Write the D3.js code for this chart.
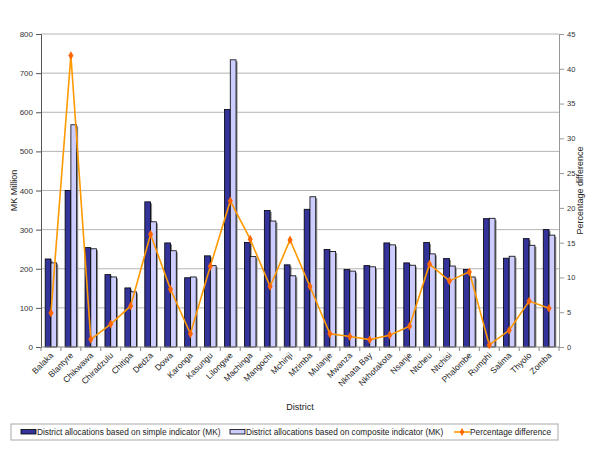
<!DOCTYPE html>
<html><head><meta charset="utf-8">
<script src="https://cdn.jsdelivr.net/npm/d3@7"></script>
<style>body{margin:0;background:#fff}svg{display:block;font-family:"Liberation Sans",Arial,sans-serif}</style>
</head><body><svg id="c" width="600" height="464"></svg>
<script>
const districts = ["Balaka","Blantyre","Chikwawa","Chiradzulu","Chitipa","Dedza","Dowa","Karonga","Kasungu","Lilongwe","Machinga","Mangochi","Mchinji","Mzimba","Mulanje","Mwanza","Nkhata Bay","Nkhotakota","Nsanje","Ntcheu","Ntchisi","Phalombe","Rumphi","Salima","Thyolo","Zomba"];
const simpleAlloc = [225,400,254,185,151,371,266,177,233,607,267,349,210,352,249,198,208,266,215,267,226,198,328,227,277,300];
const compositeAlloc = [215,568,251,179,141,320,246,179,208,734,231,322,182,384,244,194,205,261,209,238,207,179,329,232,260,286];
const pctDiff = [4.9,41.9,1.1,3.3,5.9,16.2,8.3,1.9,11.6,21.0,15.5,8.7,15.4,8.7,1.9,1.5,1.06,1.7,3.0,11.9,9.5,10.8,0.3,2.4,6.6,5.56];
const leftTicks = [0,100,200,300,400,500,600,700,800];
const rightTicks = [0,5,10,15,20,25,30,35,40,45];
const seriesNames = ["District allocations based on simple indicator (MK)","District allocations based on composite indicator (MK)","Percentage difference"];

const svg = d3.select("#c");
const L=41, R=559, T=34, B=347;
const x = d3.scaleBand().domain(districts).range([L,R]).padding(0);
const y = d3.scaleLinear().domain([0,800]).range([B,T]);
const y2 = d3.scaleLinear().domain([0,45]).range([B,T]);
const bw = x.bandwidth()*0.29;

// gridlines
svg.append("g").selectAll("line").data(leftTicks.slice(1)).join("line")
  .attr("x1",L).attr("x2",R).attr("y1",d=>y(d)).attr("y2",d=>y(d))
  .attr("stroke","#b4b4b4").attr("stroke-width",1);

// bars
const g = svg.append("g");
districts.forEach((d,i)=>{
  const cx = x(d)+x.bandwidth()/2;
  const vals=[simpleAlloc[i],compositeAlloc[i]];
  const fills=["#333399","#ccccff"];
  vals.forEach((v,j)=>{
    const x0 = cx - bw + j*bw;
    g.append("rect").attr("x",x0+1.5).attr("y",y(v)+1.5).attr("width",bw).attr("height",B-y(v)-1.5).attr("fill","#8a8a8a");
  });
  vals.forEach((v,j)=>{
    const x0 = cx - bw + j*bw;
    g.append("rect").attr("x",x0).attr("y",y(v)).attr("width",bw).attr("height",B-y(v))
      .attr("fill",fills[j]).attr("stroke","#000").attr("stroke-width",0.8);
  });
});

// axes
const yAxis = d3.axisLeft(y).tickValues(leftTicks).tickSize(5).tickPadding(3);
svg.append("g").attr("transform",`translate(${L},0)`).call(yAxis)
  .call(s=>{s.select(".domain").attr("stroke","#555");s.selectAll(".tick line").attr("stroke","#555");
    s.selectAll("text").attr("font-size",8).attr("fill","#333").attr("font-family","Liberation Sans, Arial");});
const y2Axis = d3.axisRight(y2).tickValues(rightTicks).tickSize(5).tickPadding(3);
svg.append("g").attr("transform",`translate(${R},0)`).call(y2Axis)
  .call(s=>{s.select(".domain").attr("stroke","#999");s.selectAll(".tick line").attr("stroke","#999");
    s.selectAll("text").attr("font-size",7.5).attr("fill","#333").attr("font-family","Liberation Sans, Arial");});
// x axis
svg.append("line").attr("x1",L).attr("x2",R).attr("y1",B).attr("y2",B).attr("stroke","#888");
svg.append("g").selectAll("line").data(districts.concat(["_end"])).join("line")
  .attr("x1",(d,i)=>L+i*x.bandwidth()).attr("x2",(d,i)=>L+i*x.bandwidth())
  .attr("y1",B).attr("y2",B+4).attr("stroke","#888");
svg.append("g").selectAll("text").data(districts).join("text")
  .attr("transform",d=>`translate(${x(d)+x.bandwidth()/2+3},${B+9}) rotate(-45)`)
  .attr("text-anchor","end").attr("font-size",8.5).attr("fill","#222").text(d=>d);

// line
const line = d3.line().x((d,i)=>x(districts[i])+x.bandwidth()/2).y(d=>y2(d));
svg.append("path").datum(pctDiff).attr("d",line).attr("fill","none").attr("stroke","#ff9900").attr("stroke-width",1.6);
svg.append("g").selectAll("path").data(pctDiff).join("path")
  .attr("transform",(d,i)=>`translate(${x(districts[i])+x.bandwidth()/2},${y2(d)})`)
  .attr("d",d3.symbol(d3.symbolDiamond,22)).attr("fill","#ff6600");

// titles
svg.append("text").attr("transform",`translate(17,${(T+B)/2}) rotate(-90)`).attr("text-anchor","middle")
  .attr("font-size",9).attr("fill","#222").text("MK Million");
svg.append("text").attr("transform",`translate(583,${(T+B)/2}) rotate(-90)`).attr("text-anchor","middle")
  .attr("font-size",9).attr("fill","#222").text("Percentage difference");
svg.append("text").attr("x",300).attr("y",410).attr("text-anchor","middle").attr("font-size",9).attr("fill","#222").text("District");

// legend
const lg = svg.append("g");
lg.append("rect").attr("x",11).attr("y",424).attr("width",547).attr("height",16).attr("fill","#fff").attr("stroke","#aaa");
const items=[{x:21,t:"rect",f:"#333399"},{x:230,t:"rect",f:"#ccccff"},{x:454,t:"line"}];
items.forEach((it,i)=>{
  if(it.t==="rect"){
    lg.append("rect").attr("x",it.x).attr("y",429.5).attr("width",15).attr("height",4.5).attr("fill",it.f).attr("stroke","#000").attr("stroke-width",0.8);
  } else {
    lg.append("line").attr("x1",it.x).attr("x2",it.x+16).attr("y1",432).attr("y2",432).attr("stroke","#ff9900").attr("stroke-width",1.6);
    lg.append("path").attr("transform",`translate(${it.x+8},432)`).attr("d",d3.symbol(d3.symbolDiamond,18)).attr("fill","#ff6600");
  }
  lg.append("text").attr("x",it.x+16).attr("y",435).attr("font-size",8.3).attr("fill","#222").text(seriesNames[i]);
});
</script></body></html>
